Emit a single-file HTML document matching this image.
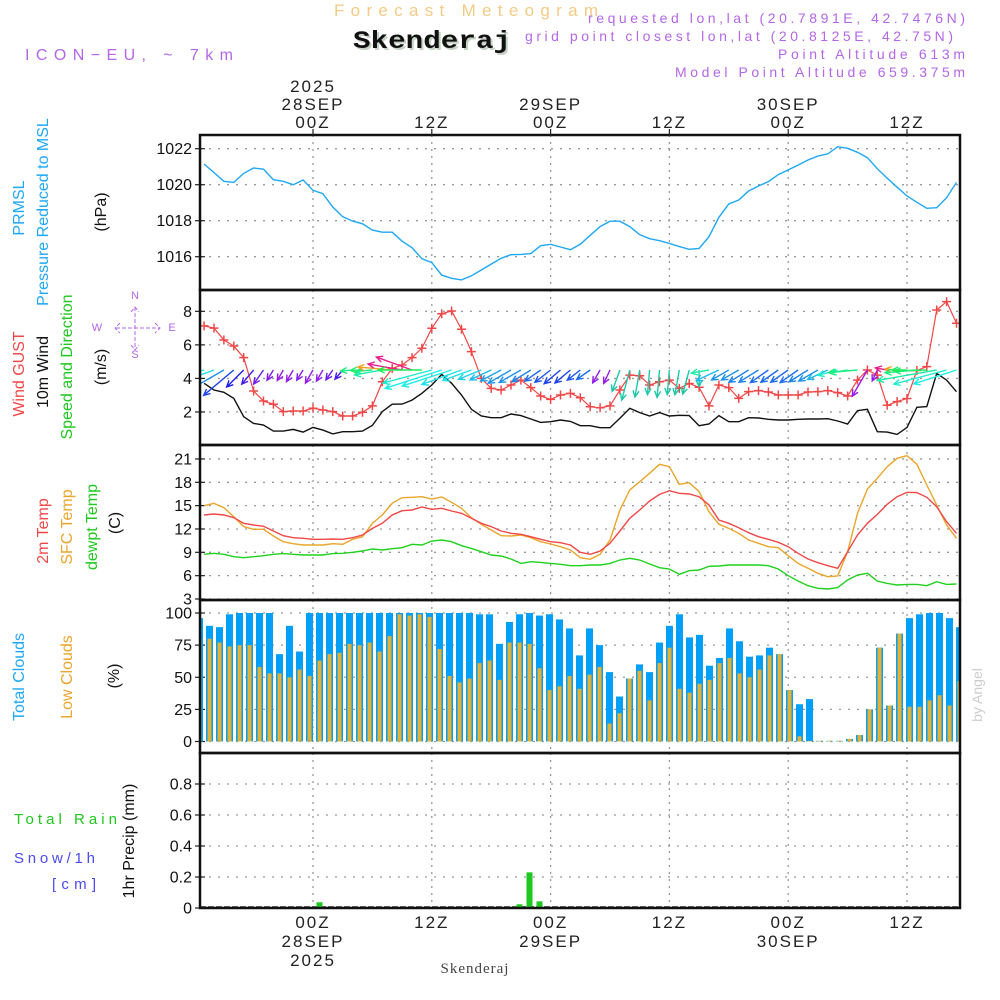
<!DOCTYPE html>
<html><head><meta charset="utf-8"><style>
html,body{margin:0;padding:0;background:#fff;}
svg{display:block;font-family:"Liberation Sans",sans-serif;}
</style></head><body>
<svg id="chart" width="1000" height="1000" viewBox="0 0 1000 1000">
<g>
<text x="334" y="16" textLength="264" lengthAdjust="spacing" font-size="17" fill="#f3cb86">Forecast Meteogram</text>
<text x="355" y="50" textLength="158" lengthAdjust="spacingAndGlyphs" font-size="25" font-weight="bold" font-family="Liberation Mono, monospace" fill="#c5d2c5">Skenderaj</text>
<text x="353" y="48" textLength="158" lengthAdjust="spacingAndGlyphs" font-size="25" font-weight="bold" font-family="Liberation Mono, monospace" fill="#111">Skenderaj</text>
<text x="25" y="60" textLength="208" lengthAdjust="spacing" font-size="16" fill="#b467e8">ICON−EU, ~ 7km</text>
<text x="588" y="23" textLength="377" lengthAdjust="spacing" font-size="14" fill="#b467e8">requested lon,lat (20.7891E, 42.7476N)</text>
<text x="525" y="41" textLength="428" lengthAdjust="spacing" font-size="14" fill="#b467e8">grid point closest lon,lat (20.8125E, 42.75N)</text>
<text x="778" y="59" textLength="187" lengthAdjust="spacing" font-size="14" fill="#b467e8">Point Altitude 613m</text>
<text x="675" y="77" textLength="290" lengthAdjust="spacing" font-size="14" fill="#b467e8">Model Point Altitude 659.375m</text>
</g>
<g id="labels" font-size="15"></g>
<g id="plot"></g>
</svg>
<script>
const hours = [];for(let h=-11;h<=65;h++)hours.push(h);
const pressure=[1021.15,1020.67,1020.19,1020.13,1020.63,1020.93,1020.86,1020.28,1020.19,1020.0,1020.26,1019.69,1019.5,1018.76,1018.22,1017.98,1017.83,1017.48,1017.36,1017.36,1016.86,1016.5,1015.89,1015.67,1014.98,1014.8,1014.71,1014.94,1015.26,1015.59,1015.91,1016.11,1016.13,1016.17,1016.61,1016.69,1016.54,1016.39,1016.69,1017.19,1017.67,1017.97,1017.97,1017.67,1017.22,1017.0,1016.89,1016.74,1016.56,1016.41,1016.46,1017.11,1018.19,1018.93,1019.15,1019.65,1019.93,1020.17,1020.56,1020.82,1021.09,1021.37,1021.59,1021.71,1022.11,1022.02,1021.8,1021.5,1020.89,1020.36,1019.86,1019.37,1019.02,1018.69,1018.72,1019.28,1020.13];
const gust=[7.13,7.0,6.29,5.93,5.24,3.25,2.65,2.46,2.02,2.06,2.06,2.22,2.12,2.02,1.76,1.76,1.98,2.36,3.8,4.6,4.8,5.24,5.8,6.99,7.86,8.02,6.93,5.6,4.0,3.41,3.31,3.61,3.9,3.45,2.95,2.75,3.01,3.11,2.85,2.31,2.25,2.36,3.31,4.2,4.16,3.61,3.8,3.9,3.41,3.7,3.47,2.36,3.61,3.45,2.81,3.21,3.27,3.19,3.01,3.01,3.01,3.19,3.21,3.27,3.15,2.95,3.9,4.5,4.2,2.4,2.62,2.8,4.47,4.7,8.08,8.58,7.29];
const wind10=[3.71,3.31,3.17,2.81,1.72,1.32,1.22,0.86,0.86,0.96,0.8,1.08,0.92,0.69,0.82,0.82,0.86,1.2,2.02,2.46,2.47,2.71,3.11,3.61,4.24,3.71,3.01,2.16,1.76,1.66,1.66,1.88,1.78,1.58,1.38,1.42,1.52,1.44,1.18,1.18,1.06,1.06,1.62,2.22,1.96,1.76,1.96,1.76,1.8,1.78,1.18,1.28,1.78,1.42,1.42,1.66,1.64,1.56,1.52,1.52,1.56,1.58,1.58,1.6,1.46,1.28,2.08,2.16,0.82,0.8,0.66,1.08,2.28,2.32,4.3,3.9,3.21];
const windDir=[75,70,60,50,45,40,35,32,30,30,32,30,30,35,40,85,88,85,80,95,100,110,90,75,72,72,70,70,68,65,62,60,60,58,55,52,50,50,52,55,30,25,20,15,10,5,5,5,10,15,0,80,65,60,60,58,58,55,55,55,55,58,60,65,75,80,85,30,25,100,95,90,85,88,80,75,72];
const temp2m=[13.8,13.93,13.8,13.45,12.73,12.51,12.34,11.74,11.14,10.88,10.8,10.67,10.67,10.71,10.67,10.88,11.23,12.08,12.73,13.8,14.35,14.44,14.83,14.53,14.66,14.31,14.01,13.37,12.73,12.3,11.74,11.44,11.31,11.01,10.67,10.37,10.24,9.94,9.0,8.74,9.17,10.16,11.74,13.37,14.44,15.6,16.45,16.92,16.58,16.5,16.15,15.08,13.15,12.73,12.17,11.52,11.01,10.67,10.29,9.72,8.87,8.14,7.67,7.28,6.94,9.08,11.23,12.73,13.88,15.17,16.15,16.71,16.67,16.07,14.87,12.94,11.44];
const tempSfc=[14.99,15.3,14.74,13.58,12.3,11.96,11.96,11.1,10.37,10.11,9.94,9.94,9.94,10.11,10.03,10.67,11.01,12.73,13.8,15.3,16.02,16.07,16.15,15.85,16.11,15.43,14.66,13.45,12.6,11.87,11.14,11.1,11.23,10.88,10.37,10.07,9.72,9.3,8.31,8.1,8.74,10.58,14.44,17.01,18.08,19.16,20.31,20.0,17.74,17.95,16.8,14.22,12.6,12.08,11.44,10.58,10.16,9.72,9.6,8.57,7.58,6.94,6.3,5.87,5.96,9.08,14.01,17.14,18.51,20.0,21.08,21.42,20.31,17.65,15.08,12.51,10.8];
const dewpt=[8.74,8.87,8.74,8.44,8.31,8.44,8.57,8.74,8.83,8.74,8.66,8.66,8.66,8.83,8.87,9.0,9.17,9.43,9.3,9.47,9.6,10.03,9.94,10.46,10.58,10.37,9.85,9.51,9.08,8.66,8.53,8.14,7.58,7.8,7.71,7.58,7.46,7.28,7.28,7.37,7.37,7.58,8.01,8.23,8.01,7.5,7.02,6.86,6.17,6.64,6.73,7.2,7.24,7.37,7.37,7.37,7.37,7.28,6.86,6.0,5.31,4.71,4.37,4.28,4.46,5.44,6.09,6.3,5.31,5.01,4.8,4.88,4.88,4.71,5.22,4.88,4.93];
const totalCloud=[96,90,89,99,100,100,100,100,68,90,70,100,100,100,100,100,100,100,100,100,100,100,100,100,100,100,100,100,99,99,76,93,99,100,98,99,95,88,67,88,75,54,35,49,60,54,77,90,99,81,83,59,65,88,78,66,67,73,68,40,29,33,0.5,0.5,0.5,2,5,25,73,28,84,96,99,100,100,96,89];
const lowCloud=[80,80,77,74,75,75,58,53,53,50,56,51,63,68,69,76,75,77,70,82,99,98,99,97,72,51,46,49,61,63,48,77,77,76,57,40,43,51,41,52,58,14,22,49,55,32,61,73,41,38,45,48,61,65,53,50,56,67,68,40,4,0.5,0.5,0.5,0.5,2,5,25,73,28,84,27,27,32,36,28,47];
const precipHours=[1,21,22,23];
const precipVals=[0.037,0.024,0.23,0.043];
const timeTicks=[0,12,24,36,48,60];
const dayLabels=[["2025","28SEP","00Z"],["","","12Z"],["","29SEP","00Z"],["","","12Z"],["","30SEP","00Z"],["","","12Z"]];
const botLabels=[["00Z","28SEP","2025"],["12Z","",""],["00Z","29SEP",""],["12Z","",""],["00Z","30SEP",""],["12Z","",""]];
const pTicks=[1016,1018,1020,1022];
const wTicks=[2,4,6,8];
const tTicks=[3,6,9,12,15,18,21];
const cTicks=[0,25,50,75,100];
const rTicks=[0,0.2,0.4,0.6,0.8];

const NS="http://www.w3.org/2000/svg";
const plot=document.getElementById('plot');
const labels=document.getElementById('labels');
function mk(tag,attrs,parent){const e=document.createElementNS(NS,tag);for(const k in attrs)e.setAttribute(k,attrs[k]);(parent||plot).appendChild(e);return e;}
const X0=200,X1=960;
const xt=h=>313+h*9.9;
const xb=h=>309.5+h*10;
const panels=[{y0:135,y1:290},{y0:290,y1:445},{y0:445,y1:600},{y0:600,y1:753},{y0:753,y1:908}];
const yP=v=>148.7-(v-1022)*18;
const yW=v=>445.5-v*16.77;
const yT=v=>599-(v-3)*7.78;
const yC=v=>741.5-v*1.285;
const yR=v=>908-v*155;

const defs=mk('defs',{});
panels.forEach((p,i)=>{const c=mk('clipPath',{id:'clip'+i},defs);mk('rect',{x:X0,y:p.y0,width:X1-X0,height:p.y1-p.y0},c);});

function grid(pi,ticks,yf,fmt,name){
  const p=panels[pi];
  const g=mk('g',{});
  
  
  timeTicks.forEach(h=>{mk('line',{x1:xt(h),x2:xt(h),y1:p.y0,y2:p.y1,stroke:'#999','stroke-dasharray':'2,5','stroke-width':1.3},g);});
  ticks.forEach(v=>{
    const y=yf(v);
    mk('line',{x1:X0,x2:X1,y1:y,y2:y,stroke:'#999','stroke-dasharray':'2,7','stroke-width':1.3},g);
    mk('line',{x1:X0-5,x2:X0+5,y1:y,y2:y,stroke:'#222','stroke-width':1.2},g);
    const t=mk('text',{x:X0-8,y:y+5.5,'text-anchor':'end','font-size':16,fill:'#111'},g);
    t.textContent=fmt(v);
    
    
  });
}
grid(0,pTicks,yP,v=>v,'pressure');
grid(1,wTicks,yW,v=>v,'wind');
grid(2,tTicks,yT,v=>v,'temp');
grid(3,cTicks,yC,v=>v,'cloud');
grid(4,rTicks,yR,v=>v===0?'0':v.toFixed(1),'precip');

function line(arr,xf,yf,color,clip,name,w){
  const d=arr.map((v,i)=>(i?'L':'M')+xf(hours[i]).toFixed(1)+','+yf(v).toFixed(1)).join('');
  const e=mk('path',{d:d,fill:'none',stroke:color,'stroke-width':w||1.4,'clip-path':'url(#clip'+clip+')'});
  
  
  return e;
}
line(pressure,xt,yP,'#1ea8f5',0,'pressure-line');
line(wind10,xt,yW,'#111',1,'wind10m-line');
line(gust,xt,yW,'#f04848',1,'gust-line',1.2);
const gm=mk('g',{'clip-path':'url(#clip1)'});


gust.forEach((v,i)=>{const x=xt(hours[i]),y=yW(v);
  const m=mk('path',{d:`M${x-4.5},${y}H${x+4.5}M${x},${y-4.5}V${y+4.5}`,stroke:'#f04848','stroke-width':1.5},gm);
  
  
});
function dirColor(d){
  if(d<25)return '#1ec8a8';
  if(d>=98)return '#e8208c';
  if(d>=92)return '#f0a020';
  const hue=Math.max(110,Math.min(275,275-(d-30)*2.3));
  return `hsl(${hue},85%,52%)`;
}
const wa=mk('g',{'clip-path':'url(#clip1)'});


windDir.forEach((d,i)=>{
  const x=xt(hours[i]),y=370;
  const len=Math.max(12,wind10[i]*14);
  const a=(d+180)*Math.PI/180;
  const dx=Math.sin(a)*len,dy=-Math.cos(a)*len;
  const ex=x+dx,ey=y+dy;
  const ang=Math.atan2(dy,dx);
  const hl=7;
  const h1x=ex-hl*Math.cos(ang-0.45),h1y=ey-hl*Math.sin(ang-0.45);
  const h2x=ex-hl*Math.cos(ang+0.45),h2y=ey-hl*Math.sin(ang+0.45);
  const c=dirColor(d);
  const ar=mk('path',{d:`M${x},${y}L${ex},${ey}M${h1x},${h1y}L${ex},${ey}L${h2x},${h2y}`,stroke:c,'stroke-width':1.4,fill:'none'},wa);
  
  
});
line(tempSfc,xt,yT,'#eaa52a',2,'sfc-temp-line');
line(temp2m,xt,yT,'#f04848',2,'2m-temp-line');
line(dewpt,xt,yT,'#1ed21e',2,'dewpt-line');
const cg=mk('g',{'clip-path':'url(#clip3)'});


totalCloud.forEach((v,i)=>{const x=xb(hours[i]);
  const b=mk('rect',{x:x-3.5,y:yC(v),width:7,height:yC(0)-yC(v),fill:'#00a0f8'},cg);
  
  
  const lv=lowCloud[i];
  const o=mk('rect',{x:x-2,y:yC(lv),width:4,height:yC(0)-yC(lv),fill:'#e8b030'},cg);
  
  
});
mk('line',{x1:X0,x2:X1,y1:907,y2:907,stroke:'#222','stroke-width':1.5,'stroke-dasharray':'6,2'});
precipVals.forEach((v,i)=>{const x=xb(precipHours[i]);
  const b=mk('rect',{x:x-3,y:yR(v),width:6,height:yR(0)-yR(v),fill:'#1ec81e'});
  
  
});
panels.forEach((p,i)=>{const r=mk('rect',{x:X0,y:p.y0,width:X1-X0,height:p.y1-p.y0,fill:'none',stroke:'#111','stroke-width':2.5});
  
  });
timeTicks.forEach((h,i)=>{const x=xt(h);
  mk('line',{x1:x,x2:x,y1:129,y2:136,stroke:'#222','stroke-width':1.2});
  dayLabels[i].forEach((s,j)=>{if(!s)return;const t=mk('text',{x:x,y:92+j*18,'text-anchor':'middle','font-size':17,'letter-spacing':'2',fill:'#222'});t.textContent=s;
    
    });
  botLabels[i].forEach((s,j)=>{if(!s)return;const t=mk('text',{x:x,y:928+j*19,'text-anchor':'middle','font-size':17,'letter-spacing':'2',fill:'#222'});t.textContent=s;
    
    });
});
function vlab(x,y,txt,color,name,size){const t=mk('text',{x:0,y:0,transform:`translate(${x},${y}) rotate(-90)`,'text-anchor':'middle','font-size':size||16,fill:color},labels);t.textContent=txt;
  
  }
vlab(24,208,'PRMSL','#1ea8f5','prmsl-label');
vlab(48,212,'Pressure Reduced to MSL','#1ea8f5','pressure-title');
vlab(106,212,'(hPa)','#111','pressure-unit');
vlab(24,374,'Wind GUST','#f04848','gust-title');
vlab(48,372,'10m Wind','#111','wind10-title');
vlab(72,367,'Speed and Direction','#1ec81e','wind-dir-title');
vlab(106,367,'(m/s)','#111','wind-unit');
vlab(48,531,'2m Temp','#f04848','temp2m-title');
vlab(72,527,'SFC Temp','#eaa52a','sfc-temp-title');
vlab(97,527,'dewpt Temp','#1ec81e','dewpt-title');
vlab(120,523,'(C)','#111','temp-unit');
vlab(24,677,'Total Clouds','#1ea8f5','total-cloud-title');
vlab(72,677,'Low Clouds','#eaa52a','low-cloud-title');
vlab(119,676,'(%)','#111','cloud-unit');
vlab(134,841,'1hr Precip (mm)','#111','precip-title');
vlab(982,695,'by Angel','#ccc','credit-label',14);
function hlab(x,y,txt,color,name,w){const t=mk('text',{x:x,y:y,'font-size':15,textLength:w,lengthAdjust:'spacing',fill:color},labels);t.textContent=txt;
  
  }
hlab(14,824,'Total  Rain','#1ec81e','rain-legend',103);
hlab(14,863,'Snow/1h','#4a4af0','snow-legend',81);
hlab(52,889,'[cm]','#4a4af0','snow-unit',44);
const sk=mk('text',{x:475,y:973,'text-anchor':'middle','font-size':15,'font-family':'Liberation Serif, serif',fill:'#444','letter-spacing':'1'},labels);
sk.textContent='Skenderaj';


const cp=mk('g',{fill:'#b467e8','font-size':11},labels);


[['N',135,299],['S',135,358],['W',97,331],['E',172,331]].forEach(a=>{const t=mk('text',{x:a[1],y:a[2],'text-anchor':'middle'},cp);t.textContent=a[0];});
mk('path',{d:'M116,328H160M135,307V350M120,323L115,328L120,333M155,323L160,328L155,333M131,312L135,307L139,312M131,345L135,350L139,345',stroke:'#b467e8','stroke-width':1,fill:'none','stroke-dasharray':'4,2'},cp);
</script>
</body></html>
